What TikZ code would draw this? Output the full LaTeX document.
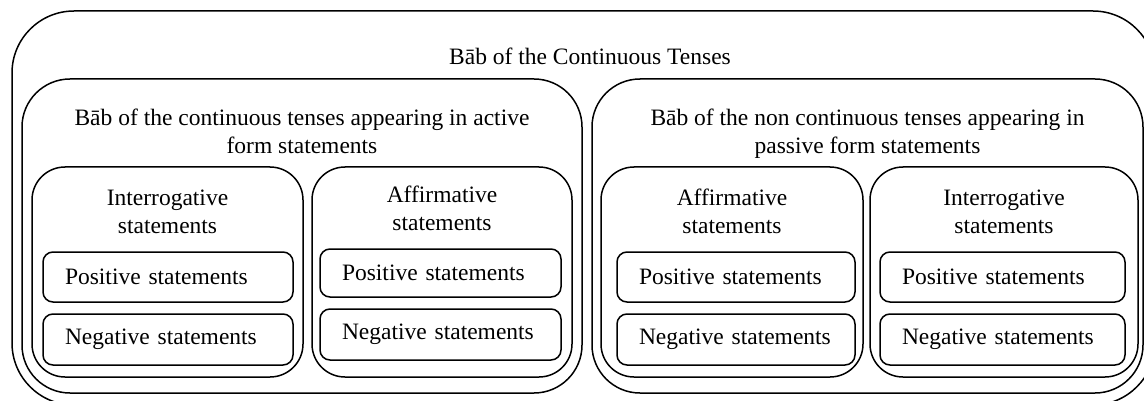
\documentclass[tikz,border=0pt]{standalone}
\usepackage{fontspec}
\setmainfont{Liberation Serif}
\tikzset{
  frame/.style={draw, line width=1.5pt, inner sep=0pt},
  outerbox/.style={frame, rounded corners=62pt},
  groupbox/.style={frame, rounded corners=48pt},
  kindbox/.style={frame, rounded corners=33pt},
  itembox/.style={frame, rounded corners=10pt, inner xsep=22pt,
    text width=#1-44pt, minimum width=#1, align=left,
    font=\fontsize{23.5}{28}\selectfont},
  caption/.style={inner sep=0pt, align=center, font=\fontsize{23.5}{28}\selectfont},
}
\begin{document}
\begin{tikzpicture}[x=1pt, y=-1pt]
\useasboundingbox (0,0) rectangle (1144,401);
\clip (0,0) rectangle (1144,401);

% outermost frame
\node[outerbox, minimum width=1143pt, minimum height=394pt] (all) at (583.5,208) {};
\node[caption] (allcap) at (590,56) {Bāb of the Continuous Tenses};

% active / passive groups
\node[groupbox, minimum width=560pt, minimum height=314pt] (active) at (302,236) {};
\node[caption] (activecap) at (302,131) {Bāb of the continuous tenses appearing in active\\form statements};
\node[groupbox, minimum width=551pt, minimum height=314pt] (passive) at (867.5,236) {};
\node[caption] (passivecap) at (867.5,133.5) {Bāb of the non continuous tenses appearing in\\passive form statements};

% statement kinds
\node[kindbox, minimum width=271pt, minimum height=210pt] (aint) at (167.5,272) {};
\node[caption] (aintcap) at (167.5,212) {Interrogative\\statements};
\node[kindbox, minimum width=260pt, minimum height=210pt] (aaff) at (442,272) {};
\node[caption] (aaffcap) at (442,208) {Affirmative\\statements};
\node[kindbox, minimum width=262pt, minimum height=210pt] (paff) at (732,272) {};
\node[caption] (paffcap) at (732,211.5) {Affirmative\\statements};
\node[kindbox, minimum width=268pt, minimum height=210pt] (pint) at (1004,272) {};
\node[caption] (pintcap) at (1004,212) {Interrogative\\statements};

% positive / negative items
\node[itembox=250pt, minimum height=50pt] (aintpos) at (168,277) {Positive statements};
\node[itembox=250pt, minimum height=51pt] (aintneg) at (168,339.5) {Negative statements};
\node[itembox=241pt, minimum height=48pt] (aaffpos) at (440.5,273) {Positive statements};
\node[itembox=241pt, minimum height=51pt] (aaffneg) at (440.5,334.5) {Negative statements};
\node[itembox=238pt, minimum height=50pt] (paffpos) at (736,277) {Positive statements};
\node[itembox=238pt, minimum height=51pt] (paffneg) at (736,339.5) {Negative statements};
\node[itembox=245pt, minimum height=50pt] (pintpos) at (1002.5,277) {Positive statements};
\node[itembox=245pt, minimum height=51pt] (pintneg) at (1002.5,339.5) {Negative statements};
\end{tikzpicture}
\end{document}
